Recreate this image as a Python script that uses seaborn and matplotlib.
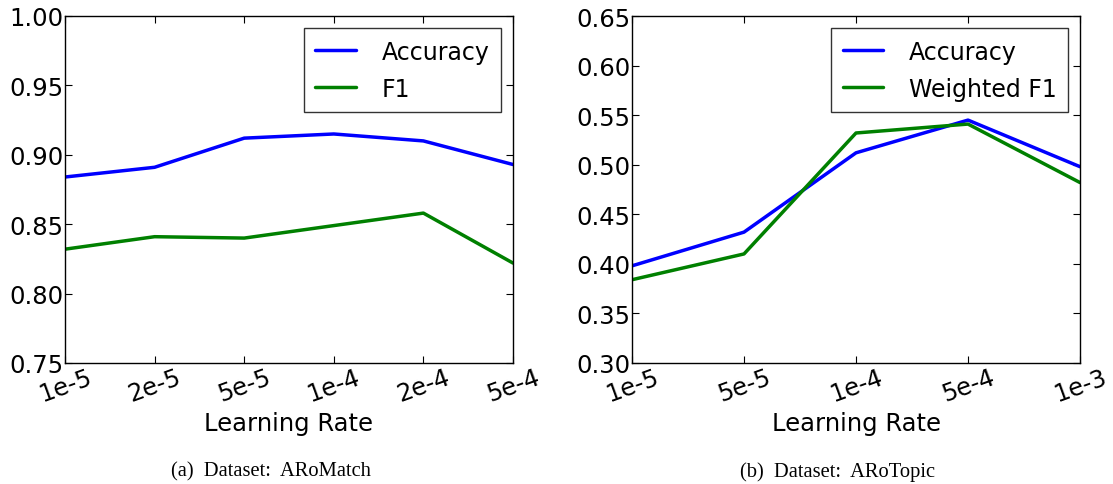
import numpy as np
import pandas as pd
import seaborn as sns
import matplotlib.pyplot as plt

# ---- data ----
match_lr = ['1e-5', '2e-5', '5e-5', '1e-4', '2e-4', '5e-4']
match_acc = [0.884, 0.891, 0.912, 0.915, 0.910, 0.893]
match_f1 = [0.832, 0.841, 0.840, 0.849, 0.858, 0.822]

topic_lr = ['1e-5', '5e-5', '1e-4', '5e-4', '1e-3']
topic_acc = [0.398, 0.432, 0.512, 0.545, 0.498]
topic_f1 = [0.384, 0.410, 0.532, 0.541, 0.482]

match_yticks = [0.75, 0.80, 0.85, 0.90, 0.95, 1.00]
topic_yticks = [0.30, 0.35, 0.40, 0.45, 0.50, 0.55, 0.60, 0.65]

sns.set_style("ticks")
plt.rcParams['font.family'] = ['DejaVu Sans']
plt.rcParams['text.color'] = 'black'
plt.rcParams['axes.labelcolor'] = 'black'
plt.rcParams['xtick.color'] = 'black'
plt.rcParams['ytick.color'] = 'black'


def make_df(lrs, acc, f1, f1_name):
    idx = list(range(len(lrs)))
    return pd.DataFrame({
        'pos': idx + idx,
        'score': list(acc) + list(f1),
        'metric': ['Accuracy'] * len(lrs) + [f1_name] * len(lrs),
    })


def draw_panel(ax, lrs, acc, f1, f1_name, yticks):
    df = make_df(lrs, acc, f1, f1_name)
    sns.lineplot(data=df, x='pos', y='score', hue='metric',
                 palette=['#0000ff', '#008000'], linewidth=2.5, ax=ax)
    ax.set_xlim(0, len(lrs) - 1)
    ax.set_ylim(yticks[0], yticks[-1])
    ax.set_xticks(range(len(lrs)))
    ax.set_xticklabels(lrs, rotation=20, ha='center')
    ax.set_yticks(yticks)
    ax.set_yticklabels(['%.2f' % t for t in yticks])
    ax.tick_params(direction='in', top=True, right=True, length=5,
                   labelsize=17.5, pad=1)
    for s in ax.spines.values():
        s.set_linewidth(1.0)
        s.set_color('black')
    ax.set_xlabel('Learning Rate', fontsize=17.5, labelpad=4)
    ax.set_ylabel('')
    leg = ax.legend(loc='upper right', fontsize=17, frameon=True,
                    fancybox=False, handlelength=1.7, handletextpad=1.1,
                    borderpad=0.5, labelspacing=0.55, borderaxespad=0.5)
    leg.get_frame().set_edgecolor('black')
    leg.get_frame().set_linewidth(1.0)
    for line in leg.get_lines():
        line.set_linewidth(2.5)


fig = plt.figure(figsize=(11.13, 4.85), dpi=100)
ax1 = fig.add_axes([65 / 1113, 1 - 364 / 485, 448 / 1113, 347 / 485])
ax2 = fig.add_axes([632 / 1113, 1 - 364 / 485, 448 / 1113, 347 / 485])

draw_panel(ax1, match_lr, match_acc, match_f1, 'F1', match_yticks)
draw_panel(ax2, topic_lr, topic_acc, topic_f1, 'Weighted F1', topic_yticks)

# sub-figure captions
fig.text(271 / 1113, 1 - 472 / 485, '(a)  Dataset:  ARoMatch', ha='center',
         va='center', fontsize=14.8, family='Liberation Serif')
fig.text(837 / 1113, 1 - 472 / 485, '(b)  Dataset:  ARoTopic', ha='center',
         va='center', fontsize=14.8, family='Liberation Serif')

fig.savefig('out.png', dpi=100)
